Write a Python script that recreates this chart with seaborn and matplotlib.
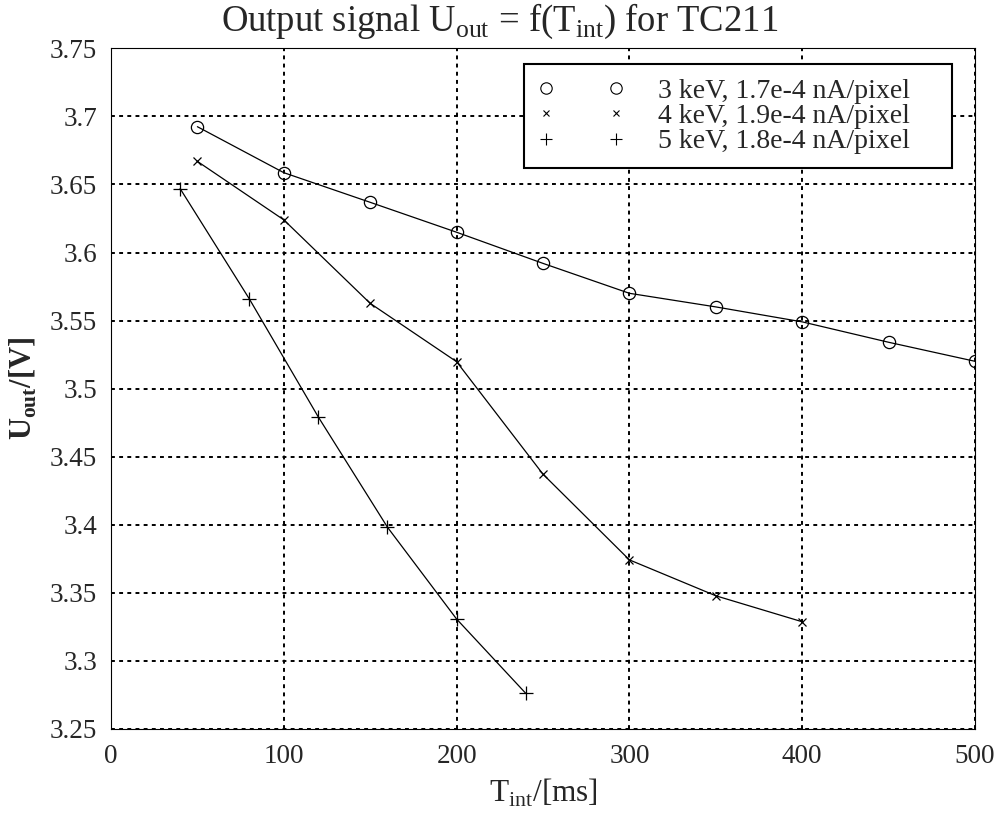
import matplotlib
matplotlib.use('Agg')
import matplotlib.pyplot as plt
import seaborn as sns
import pandas as pd
from matplotlib.lines import Line2D

# Datos
t_3kev = [50, 100, 150, 200, 250, 300, 350, 400, 450, 500]
u_3kev = [3.6925, 3.6587, 3.6369, 3.6149, 3.592, 3.570, 3.560, 3.549, 3.534, 3.520]

t_4kev = [50, 100, 150, 200, 250, 300, 350, 400]
u_4kev = [3.667, 3.624, 3.5626, 3.5197, 3.437, 3.374, 3.3476, 3.3285]

t_5kev = [40, 80, 120, 160, 200, 240]
u_5kev = [3.647, 3.566, 3.479, 3.398, 3.3305, 3.2759]

labels = ['3 keV, 1.7e-4 nA/pixel', '4 keV, 1.9e-4 nA/pixel', '5 keV, 1.8e-4 nA/pixel']
x_ticks = [0, 100, 200, 300, 400, 500]
y_ticks = [3.25, 3.3, 3.35, 3.4, 3.45, 3.5, 3.55, 3.6, 3.65, 3.7, 3.75]

sns.set_style('white')
plt.rcParams['font.family'] = ['Liberation Serif', 'DejaVu Serif']
plt.rcParams['mathtext.fontset'] = 'custom'
plt.rcParams['mathtext.rm'] = 'Liberation Serif'
plt.rcParams['mathtext.bf'] = 'Liberation Serif:bold'

fig = plt.figure(figsize=(9.99, 8.15), dpi=100)
ax = fig.add_axes([0.1111, 0.1061, 0.8649, 0.8344])

# (x, y, marcador, tamaño en grafico, tamaño en leyenda, relleno)
series = [
    (t_3kev, u_3kev, 'o', 8.8, 8.2, 'none'),
    (t_4kev, u_4kev, 'x', 5.2, 4.6, 'black'),
    (t_5kev, u_5kev, '+', 10, 8, 'black'),
]

handles = []
for (tx, uy, mk, ms, ms_leg, fc), lab in zip(series, labels):
    df = pd.DataFrame({'t': tx, 'u': uy})
    sns.lineplot(data=df, x='t', y='u', ax=ax, color='black', linewidth=0.9,
                 marker=mk, markersize=ms, markerfacecolor=fc,
                 markeredgecolor='black', markeredgewidth=0.9)
    handles.append(Line2D([], [], linestyle='None', marker=mk, markersize=ms_leg,
                          markerfacecolor=fc, markeredgecolor='black',
                          markeredgewidth=0.8, label=lab + '    '))

ax.set_xlim(0, 500)
ax.set_ylim(3.25, 3.75)
ax.set_xticks(x_ticks)
ax.set_yticks(y_ticks)
ax.set_xticklabels([str(v) for v in x_ticks])
ax.set_yticklabels([f'{v:g}' for v in y_ticks])
ax.tick_params(direction='in', length=6, width=0.8, labelsize=19.5,
               top=False, right=False)
ax.tick_params(axis='y', pad=10)
ax.tick_params(axis='x', pad=11)

ax.grid(True, color='black', linestyle=(0, (2, 2.2)), linewidth=1.4)
for sp in ax.spines.values():
    sp.set_color('black')
    sp.set_linewidth(0.8)

fig.text(0.5, 1 - 31 / 815, r'Output signal U$_{\rm out}$ = f(T$_{\rm int}$) for TC211',
         fontsize=26.4, ha='center', va='baseline')
ax.set_xlabel(r'T$_{\rm int}$/[ms]', fontsize=22.5, labelpad=6)
ax.set_ylabel(r'U$_{\mathbf{out}}$/[V]', fontsize=22, fontweight='bold', labelpad=8)

leg = ax.legend(handles=handles, loc='upper right', bbox_to_anchor=(0.9734, 0.9768),
                borderaxespad=0, numpoints=2, handlelength=3.12, handletextpad=1.2,
                fontsize=20, frameon=True, fancybox=False, framealpha=1,
                labelspacing=0.0, borderpad=0.5)
leg.get_frame().set_edgecolor('black')
leg.get_frame().set_linewidth(1.5)

plt.savefig('out.png', dpi=100)
